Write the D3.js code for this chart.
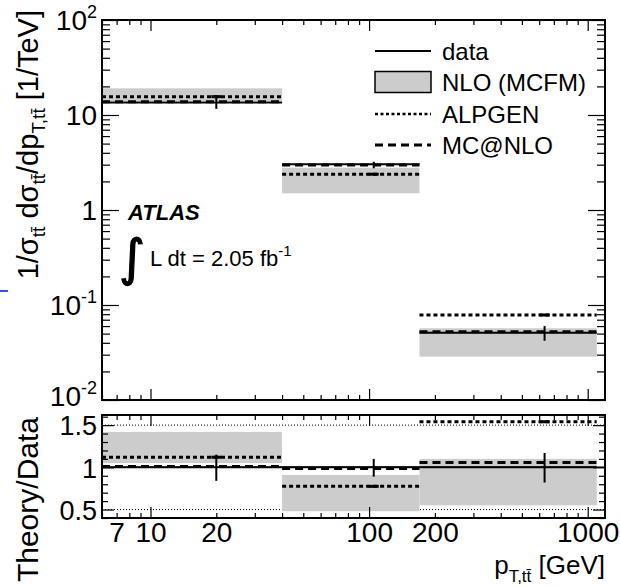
<!DOCTYPE html>
<html>
<head>
<meta charset="utf-8">
<script src="https://cdn.jsdelivr.net/npm/d3@7"></script>
<style>
body { margin: 0; background: #fff; }
svg { font-family: "Liberation Sans", Arial, Helvetica, sans-serif; }
</style>
</head>
<body>
<svg id="gfx" width="620" height="587"></svg>
<script>
// bins in pT(ttbar) [GeV]; first bin starts at the axis edge
var binLo = [6, 40, 170];
var binHi = [40, 170, 1100];
var dataX = [20, 105, 635];

// upper panel: 1/sigma dsigma/dpT [1/TeV]
var dataVal = [13.5, 3.03, 0.0511];
var dataErrLo = [11.6, 2.75, 0.042];
var dataErrHi = [15.6, 3.22, 0.060];
var nloLo = [14.0, 1.50, 0.0286];
var nloHi = [19.1, 2.79, 0.0569];
var alpgen = [15.6, 2.38, 0.0785];
var mcatnlo = [13.8, 2.98, 0.0524];

// lower panel: theory / data
var ratioData = [1, 1, 1];
var ratioErrLo = [0.84, 0.89, 0.82];
var ratioErrHi = [1.15, 1.10, 1.17];
var ratioNloLo = [1.05, 0.48, 0.55];
var ratioNloHi = [1.42, 0.91, 1.10];
var ratioAlpgen = [1.12, 0.775, 1.54];
var ratioMcatnlo = [1.01, 0.985, 1.056];

var xTickLabels = [7, 10, 20, 100, 200, 1000];
var yTickExp = [2, 1, 0, -1, -2];
var ratioTickLabels = [0.5, 1, 1.5];
var legendNames = ["data", "NLO (MCFM)", "ALPGEN", "MC@NLO"];

var gfx = {};

function initialise() {
    gfx.svg = d3.select("#gfx");
    gfx.left = 102;
    gfx.right = 605;
    gfx.top = { y0: 20, y1: 400 };
    gfx.bot = { y0: 415, y1: 518 };
    gfx.labelSize = 28;

    gfx.x = d3.scaleLog().domain([6, 1200]).range([gfx.left, gfx.right]);
    gfx.y = d3.scaleLog().domain([0.01, 100]).range([gfx.top.y1, gfx.top.y0]);
    gfx.yr = d3.scaleLinear().domain([0.4, 1.62]).range([gfx.bot.y1, gfx.bot.y0]);

    gfx.svg.append("line")
        .attr("x1", 0).attr("x2", 8).attr("y1", 291).attr("y2", 291)
        .attr("stroke", "#2a55e8").attr("stroke-width", 2);

    drawTop();
    drawRatio();
    drawAxes();
    drawLabels();
    drawLegend();
}

function bins(lo, hi, alp, mc, val, eLo, eHi) {
    return d3.range(binLo.length).map(i => ({
        x0: binLo[i], x1: binHi[i], xd: dataX[i],
        lo: lo[i], hi: hi[i], alp: alp[i], mc: mc[i],
        val: val[i], eLo: eLo[i], eHi: eHi[i]
    }));
}

function drawBins(g, y, rows) {
    var x = gfx.x;

    g.selectAll("rect.band").data(rows).enter()
        .append("rect").attr("class", "band")
        .attr("x", d => x(d.x0)).attr("width", d => x(d.x1) - x(d.x0))
        .attr("y", d => y(d.hi)).attr("height", d => y(d.lo) - y(d.hi))
        .attr("fill", "#cccccc");

    g.selectAll("line.data").data(rows).enter()
        .append("line").attr("class", "data")
        .attr("x1", d => x(d.x0)).attr("x2", d => x(d.x1))
        .attr("y1", d => y(d.val)).attr("y2", d => y(d.val))
        .attr("stroke", "#000").attr("stroke-width", 2);

    g.selectAll("line.alp").data(rows).enter()
        .append("line").attr("class", "alp")
        .attr("x1", d => x(d.x0)).attr("x2", d => x(d.x1))
        .attr("y1", d => y(d.alp)).attr("y2", d => y(d.alp))
        .attr("stroke", "#000").attr("stroke-width", 3)
        .attr("stroke-dasharray", "4,3");

    g.selectAll("line.alpmark").data(rows).enter()
        .append("line").attr("class", "alpmark")
        .attr("x1", d => x(d.xd) - 5).attr("x2", d => x(d.xd) + 5)
        .attr("y1", d => y(d.alp)).attr("y2", d => y(d.alp))
        .attr("stroke", "#000").attr("stroke-width", 3);

    g.selectAll("line.mc").data(rows).enter()
        .append("line").attr("class", "mc")
        .attr("x1", d => x(d.x0)).attr("x2", d => x(d.x1))
        .attr("y1", d => y(d.mc)).attr("y2", d => y(d.mc))
        .attr("stroke", "#000").attr("stroke-width", 3)
        .attr("stroke-dasharray", "8,5");

    g.selectAll("line.err").data(rows).enter()
        .append("line").attr("class", "err")
        .attr("x1", d => x(d.xd)).attr("x2", d => x(d.xd))
        .attr("y1", d => y(d.eLo)).attr("y2", d => y(d.eHi))
        .attr("stroke", "#000").attr("stroke-width", 2);
}

function drawTop() {
    var g = gfx.svg.append("g").attr("class", "top");
    drawBins(g, gfx.y, bins(nloLo, nloHi, alpgen, mcatnlo, dataVal, dataErrLo, dataErrHi));
}

function drawRatio() {
    var g = gfx.svg.append("g").attr("class", "ratio");
    var yr = gfx.yr;

    g.selectAll("line.ref").data([0.5, 1.5]).enter()
        .append("line").attr("class", "ref")
        .attr("x1", gfx.left).attr("x2", gfx.right)
        .attr("y1", d => yr(d)).attr("y2", d => yr(d))
        .attr("stroke", "#000").attr("stroke-width", 1)
        .attr("stroke-dasharray", "1,2");

    drawBins(g, yr, bins(ratioNloLo, ratioNloHi, ratioAlpgen, ratioMcatnlo, ratioData, ratioErrLo, ratioErrHi));

    g.append("line")
        .attr("x1", gfx.left).attr("x2", gfx.right)
        .attr("y1", yr(1)).attr("y2", yr(1))
        .attr("stroke", "#000").attr("stroke-width", 1.5);
}

function tickRow(axis, scale, values, size, tx, ty) {
    gfx.svg.append("g")
        .attr("transform", "translate(" + tx + "," + ty + ")")
        .call(axis(scale).tickValues(values).tickSize(size).tickFormat(""))
        .call(g => g.select(".domain").remove())
        .selectAll("line").attr("stroke-width", 1.2);
}

function drawAxes() {
    var x = gfx.x, y = gfx.y, yr = gfx.yr;
    var xMajor = [10, 100, 1000];
    var xMinor = [6, 7, 8, 9, 20, 30, 40, 50, 60, 70, 80, 90, 200, 300, 400, 500, 600, 700, 800, 900];
    var yMajor = [0.01, 0.1, 1, 10, 100];
    var yMinor = [];
    [0.01, 0.1, 1, 10].forEach(d => d3.range(2, 10).forEach(k => yMinor.push(d * k)));
    var rMajor = [0.5, 1, 1.5];
    var rMinor = [0.4, 0.6, 0.7, 0.8, 0.9, 1.1, 1.2, 1.3, 1.4, 1.6];

    [gfx.top, gfx.bot].forEach(p => {
        tickRow(d3.axisBottom, x, xMajor, -11, 0, p.y1);
        tickRow(d3.axisBottom, x, xMinor, -5, 0, p.y1);
        tickRow(d3.axisTop, x, xMajor, -11, 0, p.y0);
        tickRow(d3.axisTop, x, xMinor, -5, 0, p.y0);
    });

    tickRow(d3.axisLeft, y, yMajor, -17, gfx.left, 0);
    tickRow(d3.axisLeft, y, yMinor, -8, gfx.left, 0);
    tickRow(d3.axisRight, y, yMajor, -17, gfx.right, 0);
    tickRow(d3.axisRight, y, yMinor, -8, gfx.right, 0);

    tickRow(d3.axisLeft, yr, rMajor, -12, gfx.left, 0);
    tickRow(d3.axisLeft, yr, rMinor, -6, gfx.left, 0);
    tickRow(d3.axisRight, yr, rMajor, -12, gfx.right, 0);
    tickRow(d3.axisRight, yr, rMinor, -6, gfx.right, 0);

    [gfx.top, gfx.bot].forEach(p => {
        gfx.svg.append("rect")
            .attr("x", gfx.left).attr("y", p.y0)
            .attr("width", gfx.right - gfx.left).attr("height", p.y1 - p.y0)
            .attr("fill", "none").attr("stroke", "#000").attr("stroke-width", 2);
    });

    // tick labels
    var xl = gfx.svg.append("g")
        .attr("transform", "translate(0," + gfx.bot.y1 + ")")
        .call(d3.axisBottom(x).tickValues(xTickLabels).tickSize(0).tickPadding(4).tickFormat(d3.format("d")));
    xl.select(".domain").remove();
    xl.selectAll("text").attr("font-size", gfx.labelSize).attr("font-family", null).attr("fill", "#000");

    var rl = gfx.svg.append("g")
        .attr("transform", "translate(" + gfx.left + ",0)")
        .call(d3.axisLeft(yr).tickValues(ratioTickLabels).tickSize(0).tickPadding(5).tickFormat(d3.format("")));
    rl.select(".domain").remove();
    rl.selectAll("text").attr("font-size", 27).attr("font-family", null).attr("fill", "#000")
        .attr("dy", "0.36em");

    var yl = gfx.svg.append("g").selectAll("text").data(yTickExp).enter()
        .append("text")
        .attr("x", gfx.left - 5)
        .attr("y", d => y(Math.pow(10, d)) + (d == -2 ? 6 : 10))
        .attr("text-anchor", "end")
        .attr("font-size", gfx.labelSize);
    yl.append("tspan").text(d => d == 0 ? "1" : "10");
    yl.filter(d => d != 0 && d != 1).append("tspan")
        .attr("dy", -12).attr("font-size", 18)
        .text(d => d < 0 ? "-" + (-d) : d);
}

function drawLabels() {
    var svg = gfx.svg;

    var yt = svg.append("text")
        .attr("transform", "translate(38,10) rotate(-90)")
        .attr("text-anchor", "end").attr("font-size", 29);
    yt.append("tspan").text("1/σ");
    yt.append("tspan").attr("font-size", 19).attr("dy", 7).text("tt\u0304");
    yt.append("tspan").attr("dy", -7).text(" dσ");
    yt.append("tspan").attr("font-size", 19).attr("dy", 7).text("tt\u0304");
    yt.append("tspan").attr("dy", -7).text("/dp");
    yt.append("tspan").attr("font-size", 19).attr("dy", 7).text("T,tt\u0304");
    yt.append("tspan").attr("dy", -7).text(" [1/TeV]");

    svg.append("text")
        .attr("transform", "translate(38,417) rotate(-90)")
        .attr("text-anchor", "end").attr("font-size", 30)
        .text("Theory/Data");

    var xt = svg.append("text")
        .attr("x", gfx.right).attr("y", 574)
        .attr("text-anchor", "end").attr("font-size", 26);
    xt.append("tspan").text("p");
    xt.append("tspan").attr("font-size", 17).attr("dy", 8).text("T,tt\u0304");
    xt.append("tspan").attr("dy", -8).text(" [GeV]");

    svg.append("text")
        .attr("x", 128).attr("y", 220)
        .attr("font-size", 22).attr("font-weight", "bold").attr("font-style", "italic")
        .text("ATLAS");

    svg.append("text")
        .attr("x", 119).attr("y", 275)
        .attr("font-family", "DejaVu Sans")
        .attr("font-size", 50)
        .attr("stroke", "#000").attr("stroke-width", 1.2)
        .text("∫");

    var lum = svg.append("text")
        .attr("x", 150).attr("y", 266).attr("font-size", 22);
    lum.append("tspan").text("L dt = 2.05 fb");
    lum.append("tspan").attr("dy", -10).attr("font-size", 15).text("-1");
}

function drawLegend() {
    var rowsY = [51, 82, 114, 145];
    var lg = gfx.svg.append("g").attr("class", "legend");
    var x0 = 375, x1 = 431;

    lg.append("line").attr("x1", x0).attr("x2", x1).attr("y1", rowsY[0]).attr("y2", rowsY[0])
        .attr("stroke", "#000").attr("stroke-width", 2);
    lg.append("rect").attr("x", x0).attr("y", rowsY[1] - 10.5).attr("width", x1 - x0).attr("height", 21)
        .attr("fill", "#cccccc").attr("stroke", "#000").attr("stroke-width", 1.5);
    lg.append("line").attr("x1", x0).attr("x2", x1).attr("y1", rowsY[2]).attr("y2", rowsY[2])
        .attr("stroke", "#000").attr("stroke-width", 2.5).attr("stroke-dasharray", "3,2.5");
    lg.append("line").attr("x1", x0).attr("x2", x1).attr("y1", rowsY[3]).attr("y2", rowsY[3])
        .attr("stroke", "#000").attr("stroke-width", 3).attr("stroke-dasharray", "8,5");

    lg.selectAll("text").data(legendNames).enter()
        .append("text")
        .attr("x", 442).attr("y", (d, i) => rowsY[i] + 8.5)
        .attr("font-size", 24)
        .text(d => d);
}

initialise();
</script>
</body>
</html>
